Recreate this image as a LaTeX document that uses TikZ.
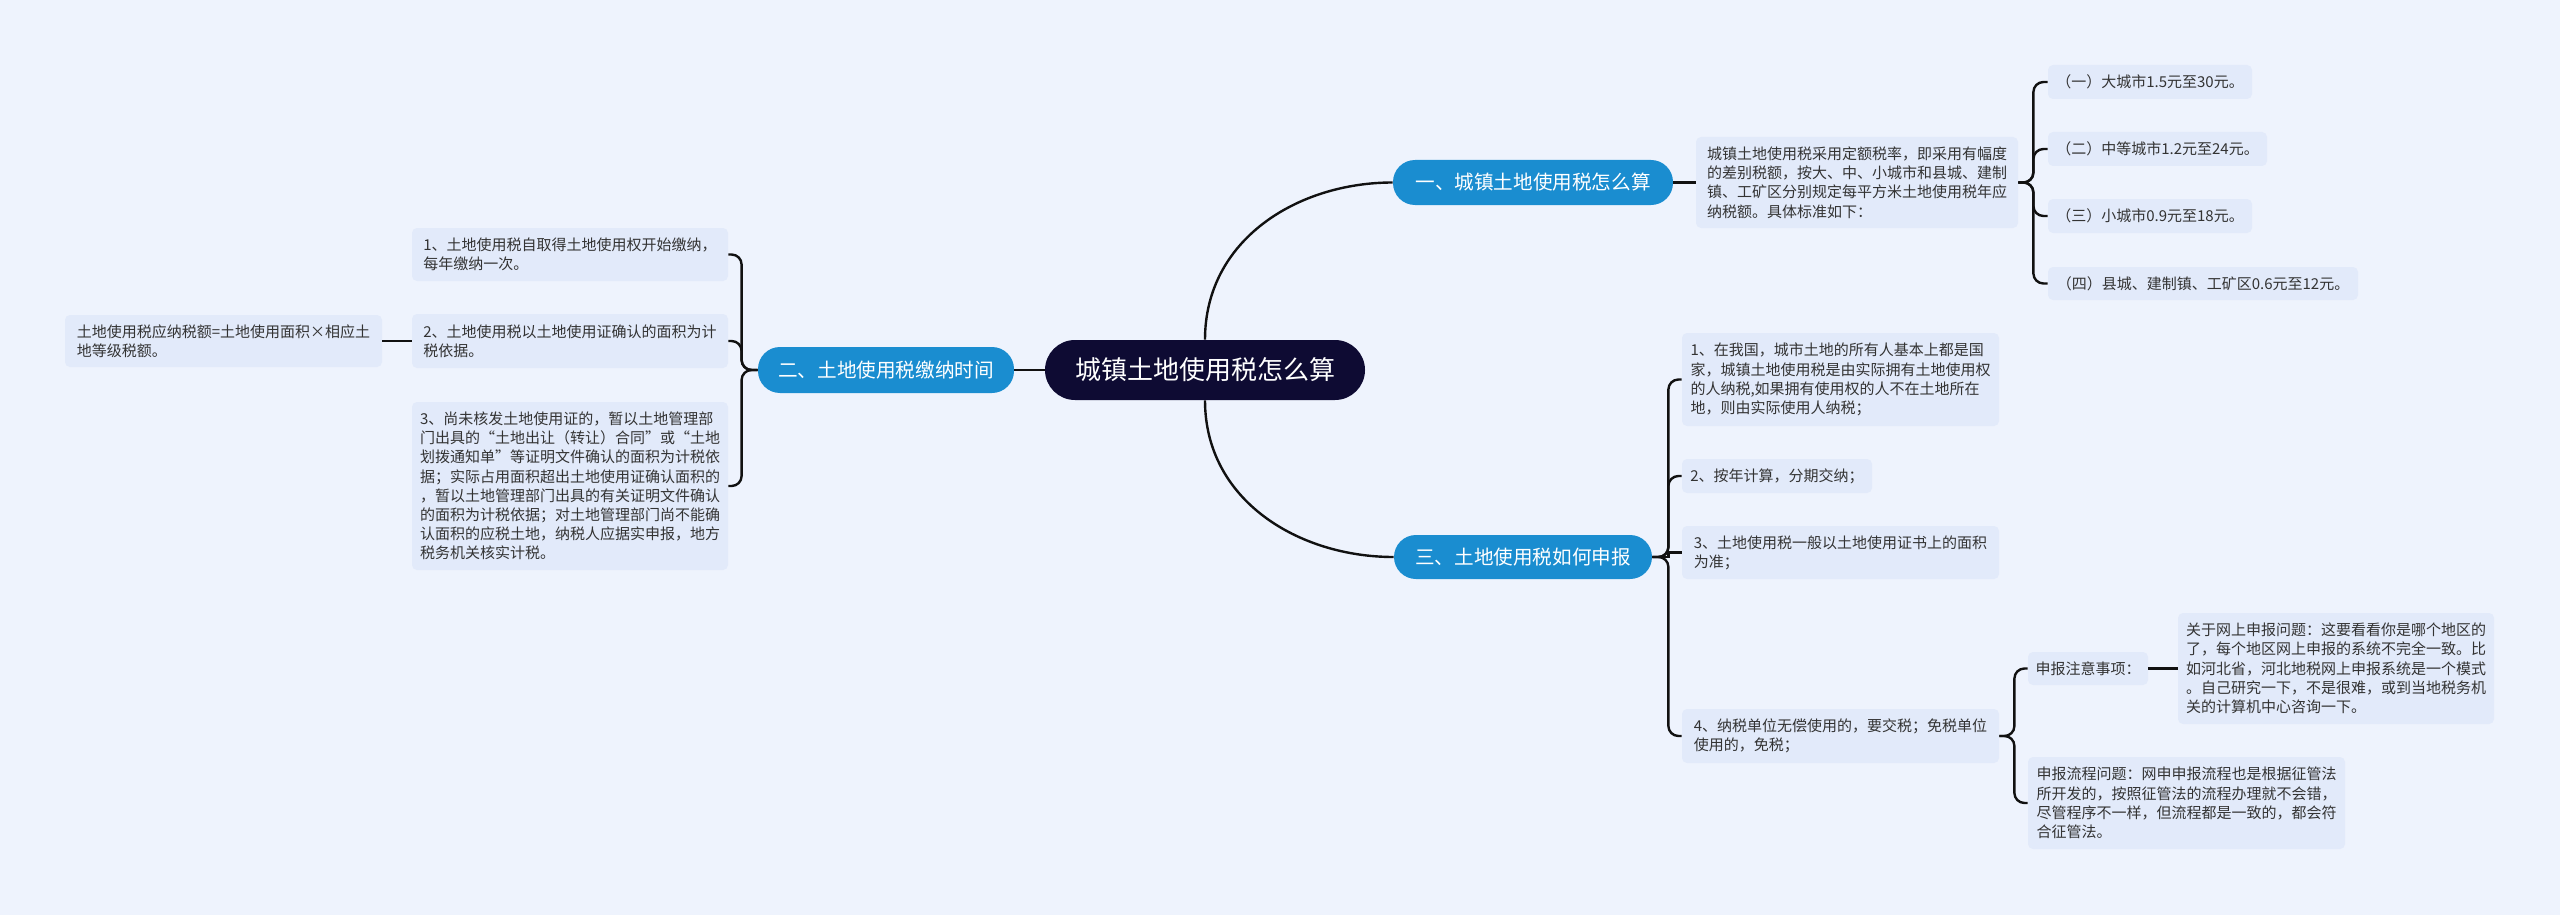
\documentclass[tikz,border=0pt]{standalone}
\usepackage{fontspec}
\setmainfont{Noto Sans CJK SC}
\definecolor{bgc}{HTML}{EEF3FD}
\definecolor{leafc}{HTML}{E2EAFA}
\definecolor{branchc}{HTML}{1A8DD0}
\definecolor{rootc}{HTML}{0E0B33}
\definecolor{inkc}{HTML}{333333}
\definecolor{linkc}{HTML}{111111}
\tikzset{
  rootbox/.style={fill=rootc, text=white, rounded corners=15pt, inner sep=0pt, minimum width=160pt, minimum height=30pt, font=\fontsize{13pt}{15pt}\selectfont},
  branchbox/.style={fill=branchc, text=white, rounded corners=11pt, inner sep=0pt, font=\fontsize{9.8pt}{12pt}\selectfont},
  leafbox/.style={fill=leafc, text=inkc, rounded corners=2.5pt, inner sep=0pt, align=left, font=\fontsize{7.5pt}{9.6pt}\selectfont},
  linkline/.style={draw=linkc, line width=1.2pt},
  bracket/.style={linkline, rounded corners=5pt}
}
\begin{document}
\begin{tikzpicture}[x=0.5pt, y=-0.5pt]
\fill[bgc] (0,0) rectangle (2560,915);
\useasboundingbox (0,0) rectangle (2560,915);
\node[rootbox] (root) at (1205,370) {城镇土地使用税怎么算};
\node[branchbox, minimum width=140pt, minimum height=22.5pt] (b1) at (1533,182.5) {一、城镇土地使用税怎么算};
\node[branchbox, minimum width=128pt, minimum height=23pt] (b2) at (886,370) {二、土地使用税缴纳时间};
\node[branchbox, minimum width=129pt, minimum height=22pt] (b3) at (1523,557) {三、土地使用税如何申报};
\node[leafbox, minimum width=161pt, minimum height=45.5pt] (t1) at (1857,182.5) {城镇土地使用税采用定额税率，即采用有幅度\\的差别税额，按大、中、小城市和县城、建制\\镇、工矿区分别规定每平方米土地使用税年应\\纳税额。具体标准如下：};
\node[leafbox, minimum width=102pt, minimum height=17pt] (c1) at (2150,82) {（一）大城市1.5元至30元。};
\node[leafbox, minimum width=109.5pt, minimum height=17pt] (c2) at (2157.5,149) {（二）中等城市1.2元至24元。};
\node[leafbox, minimum width=102pt, minimum height=17pt] (c3) at (2150,216) {（三）小城市0.9元至18元。};
\node[leafbox, minimum width=155pt, minimum height=16.5pt] (c4) at (2203,283.5) {（四）县城、建制镇、工矿区0.6元至12元。};
\node[leafbox, minimum width=158.5pt, minimum height=46.5pt] (d1) at (1840.5,379.5) {1、在我国，城市土地的所有人基本上都是国\\家，城镇土地使用税是由实际拥有土地使用权\\的人纳税,如果拥有使用权的人不在土地所在\\地，则由实际使用人纳税；};
\node[leafbox, minimum width=95pt, minimum height=17pt] (d2) at (1777,476) {2、按年计算，分期交纳；};
\node[leafbox, minimum width=158.5pt, minimum height=26.5pt] (d3) at (1840.5,552.5) {3、土地使用税一般以土地使用证书上的面积\\为准；};
\node[leafbox, minimum width=158.5pt, minimum height=27pt] (d4) at (1840.5,736) {4、纳税单位无偿使用的，要交税；免税单位\\使用的，免税；};
\node[leafbox, minimum width=60pt, minimum height=16.5pt] (e1) at (2088,668.5) {申报注意事项：};
\node[leafbox, minimum width=158.5pt, minimum height=46pt] (e2) at (2186.5,803) {申报流程问题：网申申报流程也是根据征管法\\所开发的，按照征管法的流程办理就不会错，\\尽管程序不一样，但流程都是一致的，都会符\\合征管法。};
\node[leafbox, minimum width=158pt, minimum height=55.5pt] (f1) at (2336,668.5) {关于网上申报问题：这要看看你是哪个地区的\\了，每个地区网上申报的系统不完全一致。比\\如河北省，河北地税网上申报系统是一个模式\\。自己研究一下，不是很难，或到当地税务机\\关的计算机中心咨询一下。};
\node[leafbox, minimum width=158pt, minimum height=26.5pt] (l1) at (570,254.5) {1、土地使用税自取得土地使用权开始缴纳，\\每年缴纳一次。};
\node[leafbox, minimum width=158pt, minimum height=27pt] (l2) at (570,341) {2、土地使用税以土地使用证确认的面积为计\\税依据。};
\node[leafbox, minimum width=158pt, minimum height=84pt] (l3) at (570,486) {3、尚未核发土地使用证的，暂以土地管理部\\门出具的“土地出让（转让）合同”或“土地\\划拨通知单”等证明文件确认的面积为计税依\\据；实际占用面积超出土地使用证确认面积的\\，暂以土地管理部门出具的有关证明文件确认\\的面积为计税依据；对土地管理部门尚不能确\\认面积的应税土地，纳税人应据实申报，地方\\税务机关核实计税。};
\node[leafbox, minimum width=158.5pt, minimum height=26pt] (l4) at (223.5,341) {土地使用税应纳税额=土地使用面积×相应土\\地等级税额。};
\draw[linkline] (root.west) -- (b2.east);
\draw[linkline] (root.north) .. controls +(0,-100) and +(-95,0) .. (b1.west);
\draw[linkline] (root.south) .. controls +(0,100) and +(-95,0) .. (b3.west);
\draw[linkline] (b1.east) -- (t1.west);
\draw[bracket] (t1.east) -- ++(15,0) |- (c1.west);
\draw[bracket] (t1.east) -- ++(15,0) |- (c2.west);
\draw[bracket] (t1.east) -- ++(15,0) |- (c3.west);
\draw[bracket] (t1.east) -- ++(15,0) |- (c4.west);
\draw[bracket] (b3.east) -- ++(16,0) |- (d1.west);
\draw[bracket] (b3.east) -- ++(16,0) |- (d2.west);
\draw[linkline] (b3.east) -- ++(16,0) |- (d3.west);
\draw[bracket] (b3.east) -- ++(16,0) |- (d4.west);
\draw[bracket] (d4.east) -- ++(15,0) |- (e1.west);
\draw[bracket] (d4.east) -- ++(15,0) |- (e2.west);
\draw[linkline] (e1.east) -- (f1.west);
\draw[bracket] (b2.west) -- ++(-16,0) |- (l1.east);
\draw[bracket] (b2.west) -- ++(-16,0) |- (l2.east);
\draw[bracket] (b2.west) -- ++(-16,0) |- (l3.east);
\draw[linkline] (l2.west) -- (l4.east);
\end{tikzpicture}
\end{document}
